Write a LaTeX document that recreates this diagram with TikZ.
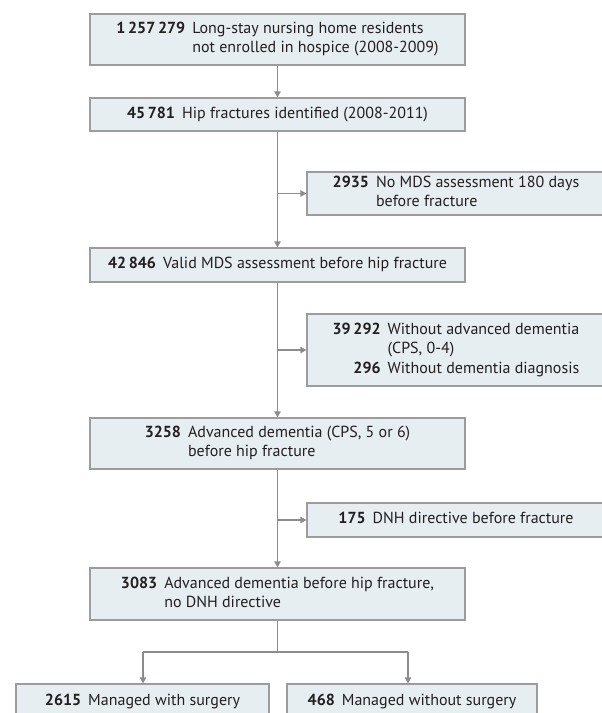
\documentclass[tikz,border=0pt]{standalone}
\usepackage{fontspec}
\setmainfont{PT Sans}
\usetikzlibrary{arrows.meta}
\definecolor{boxfill}{HTML}{E6EEF2}
\definecolor{boxline}{HTML}{9C9C9C}
\definecolor{connc}{HTML}{8C8C8C}
\definecolor{txt}{HTML}{231F20}
\tikzset{
  box/.style={draw=boxline, fill=boxfill, line width=1.2pt, inner sep=0pt, text=txt,
    font=\fontsize{16}{19}\selectfont, align=left},
  conn/.style={draw=connc, line width=1.2pt},
  arr/.style={conn, -{Triangle[length=6pt,width=6.5pt]}},
}
\newcommand{\nbox}[1]{\begin{tabular}{@{}r@{\hspace{7pt}}l@{}}#1\end{tabular}}
\begin{document}
\begin{tikzpicture}[x=1pt,y=-1pt]
\useasboundingbox (0,0) rectangle (602,713);
\clip (0,0) rectangle (602,713);
% main column
\node[box, minimum width=375pt, minimum height=51pt] (b1) at (277.5,39.5)
  {\nbox{\textbf{1\,257\,279} & Long-stay nursing home residents\\ & not enrolled in hospice (2008-2009)}};
\node[box, minimum width=375pt, minimum height=33pt] (b2) at (277.5,114.5)
  {\nbox{\textbf{45\,781} & Hip fractures identified (2008-2011)}};
\node[box, minimum width=375pt, minimum height=34pt] (b3) at (277.5,265)
  {\nbox{\textbf{42\,846} & Valid MDS assessment before hip fracture}};
\node[box, minimum width=375pt, minimum height=51pt] (b4) at (277.5,443.5)
  {\nbox{\textbf{3258} & Advanced dementia (CPS, 5 or 6)\\ & before hip fracture}};
\node[box, minimum width=375pt, minimum height=52pt] (b5) at (277.5,594)
  {\nbox{\textbf{3083} & Advanced dementia before hip fracture,\\ & no DNH directive}};
% side boxes
\node[box, minimum width=298pt, minimum height=43pt] (s1) at (456,193.5)
  {\nbox{\textbf{2935} & No MDS assessment 180 days\\ & before fracture}};
\node[box, minimum width=298pt, minimum height=72pt] (s2) at (456,350)
  {\nbox{\textbf{39\,292} & Without advanced dementia\\ & (CPS, 0-4)\\[1pt] \textbf{296} & Without dementia diagnosis}};
\node[box, minimum width=298pt, minimum height=34pt] (s3) at (456,520)
  {\nbox{\textbf{175} & DNH directive before fracture}};
% bottom boxes
\node[box, minimum width=253pt, minimum height=36pt] (l) at (142.5,702)
  {\nbox{\textbf{2615} & Managed with surgery}};
\node[box, minimum width=250pt, minimum height=36pt] (r) at (412,702)
  {\nbox{\textbf{468} & Managed without surgery}};
% connectors
\draw[arr] (b1) -- (b2);
\draw[arr] (b2) -- (b3);
\draw[arr] (b2.south |- s1.west) -- (s1.west);
\draw[arr] (b3) -- (b4);
\draw[arr] (b3.south |- s2.west) -- (s2.west);
\draw[arr] (b4) -- (b5);
\draw[arr] (b4.south |- s3.west) -- (s3.west);
\coordinate (j) at (277.5,652);
\coordinate (lj) at (143,652);
\coordinate (rj) at (408,652);
\draw[conn] (b5) -- (j);
\draw[conn] (lj) -- (rj);
\draw[arr] (lj) -- (lj |- l.north);
\draw[arr] (rj) -- (rj |- r.north);
\end{tikzpicture}
\end{document}
